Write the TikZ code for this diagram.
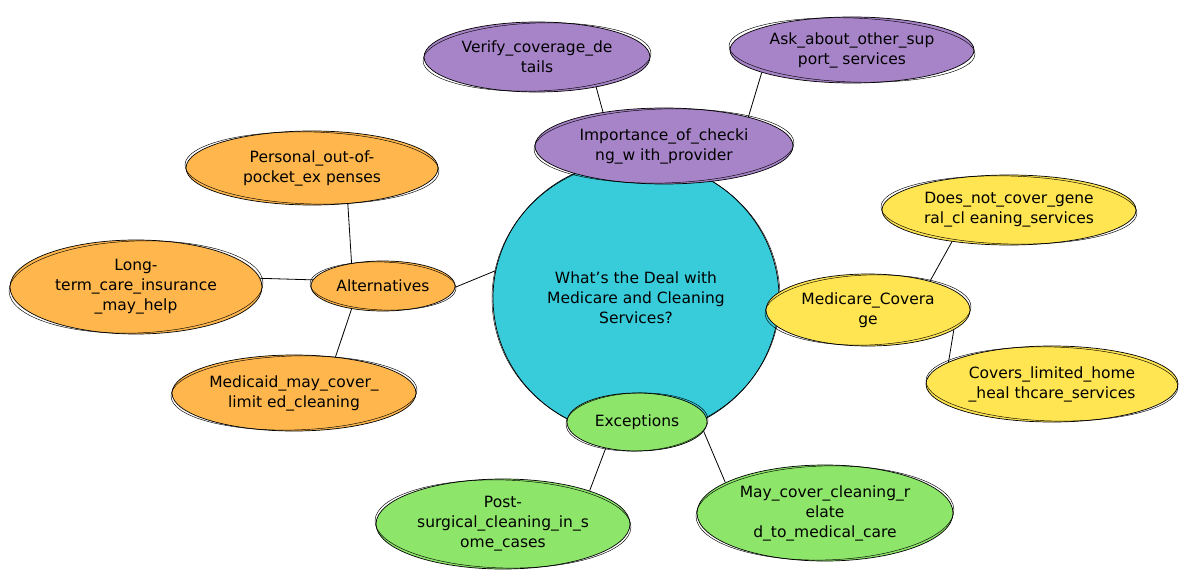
\documentclass[tikz,border=0pt]{standalone}
\usepackage{fontspec}
\setmainfont{DejaVu Sans}
\usetikzlibrary{shapes.geometric,backgrounds}
\definecolor{purpleF}{HTML}{A784C8}
\definecolor{orangeF}{HTML}{FFB74D}
\definecolor{yellowF}{HTML}{FFE552}
\definecolor{tealF}{HTML}{38CCDB}
\definecolor{greenF}{HTML}{8DE66A}
\begin{document}
\begin{tikzpicture}[x=1pt,y=-1pt,
  bubble/.style={ellipse, draw=black, line width=0.7pt, inner sep=0pt, align=center,
    font=\fontsize{15.5}{20}\selectfont},
  link/.style={draw=black, line width=0.8pt},
  sketch/.style={draw=black, line width=0.45pt}]
\useasboundingbox (0,0) rectangle (1190,588);
% central topic
\node[bubble, fill=tealF, minimum width=286, minimum height=276] (center) at (636,298)
  {What’s the Deal with\\Medicare and Cleaning\\Services?};
\draw[sketch, rotate around={2:(center.center)}] (center.center) ellipse [x radius=144, y radius=137];
% purple branch
\node[bubble, fill=purpleF, minimum width=226, minimum height=70] (verify) at (537,57)
  {Verify\_coverage\_de\\tails};
\node[bubble, fill=purpleF, minimum width=244, minimum height=66] (ask) at (852,50)
  {Ask\_about\_other\_sup\\port\_ services};
\node[bubble, fill=purpleF, minimum width=258, minimum height=76] (importance) at (664,146)
  {Importance\_of\_checki\\ng\_w ith\_provider};
% orange branch
\node[bubble, fill=orangeF, minimum width=252, minimum height=74] (personal) at (312,168)
  {Personal\_out-of-\\pocket\_ex penses};
\node[bubble, fill=orangeF, minimum width=252, minimum height=94] (longterm) at (136,287)
  {Long-\\term\_care\_insurance\\\_may\_help};
\node[bubble, fill=orangeF, minimum width=144, minimum height=50] (alternatives) at (383,286)
  {Alternatives};
\node[bubble, fill=orangeF, minimum width=244, minimum height=76] (medicaid) at (294,393)
  {Medicaid\_may\_cover\_\\limit ed\_cleaning};
% yellow branch
\node[bubble, fill=yellowF, minimum width=254, minimum height=70] (doesnot) at (1009,210)
  {Does\_not\_cover\_gene\\ral\_cl eaning\_services};
\node[bubble, fill=yellowF, minimum width=204, minimum height=72] (medicare) at (868,310)
  {Medicare\_Covera\\ge};
\node[bubble, fill=yellowF, minimum width=252, minimum height=76] (covers) at (1052,384)
  {Covers\_limited\_home\\\_heal thcare\_services};
% green branch
\node[bubble, fill=greenF, minimum width=140, minimum height=58] (exceptions) at (637,422)
  {Exceptions};
\node[bubble, fill=greenF, minimum width=254, minimum height=90] (postsurg) at (503,524)
  {Post-\\surgical\_cleaning\_in\_s\\ome\_cases};
\node[bubble, fill=greenF, minimum width=256, minimum height=96] (maycover) at (825,513)
  {May\_cover\_cleaning\_r\\elate\\d\_to\_medical\_care};
% second sketchy outlines
\foreach \n/\rx/\ry/\a in {verify/114/34/2, ask/123/32/-2,
  importance/130/37/1.5, personal/127/36/-1.5, longterm/127/46/2, alternatives/73/24/-2,
  medicaid/123/37/1.5, doesnot/128/34/-1.5, medicare/103/35/2, covers/126/37/-1.5,
  exceptions/71/29/2, postsurg/128/44/-1.5, maycover/129/47/1.5}
  \draw[sketch, rotate around={\a:(\n.center)}] (\n.center) ellipse [x radius=\rx, y radius=\ry];
% connectors
\begin{pgfonlayer}{background}
\draw[link] (verify.-27) -- (importance.151);
\draw[link] (ask.-166) -- (importance.19);
\draw[link] (importance) -- (center);
\draw[link] (personal.-45) -- (alternatives.144);
\draw[link] (longterm.4) -- (alternatives.175);
\draw[link] (medicaid.41) -- (alternatives.216);
\draw[link] (alternatives.-1) -- (center.169);
\draw[link] (doesnot.209) -- (medicare.25);
\draw[link] (medicare.-13) -- (covers.168);
\draw[link] (medicare) -- (center);
\draw[link] (exceptions.-140) -- (postsurg.21);
\draw[link] (exceptions.-8) -- (maycover.163);
\draw[link] (exceptions) -- (center);
\end{pgfonlayer}
\end{tikzpicture}
\end{document}
